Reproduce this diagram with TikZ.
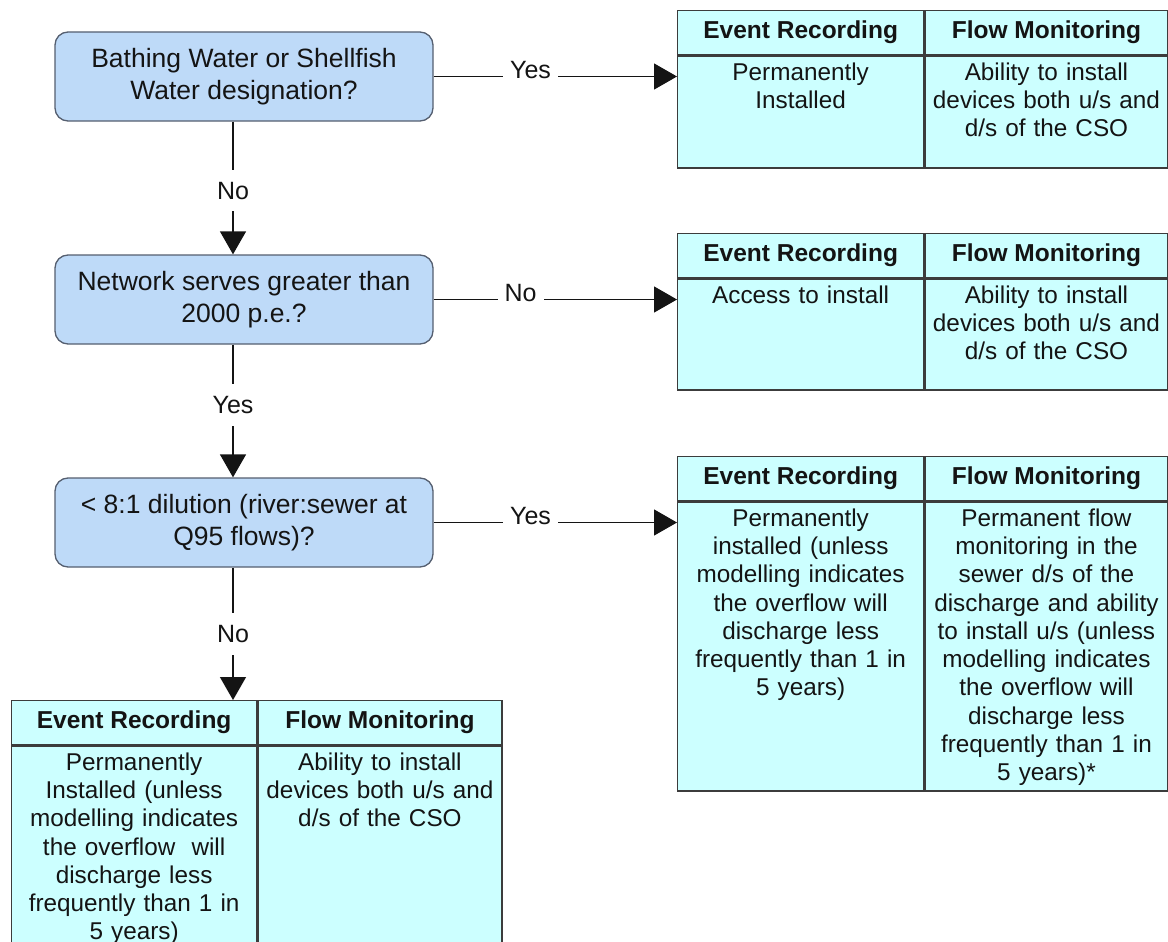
\documentclass[tikz,border=0pt]{standalone}
\usepackage{fontspec}
\setmainfont{Liberation Sans}
\usetikzlibrary{arrows.meta}

\definecolor{qfill}{RGB}{190,218,248}
\definecolor{qline}{RGB}{85,95,112}
\definecolor{tfill}{RGB}{204,255,255}
\definecolor{tline}{RGB}{60,60,60}
\definecolor{ink}{RGB}{20,20,20}

\tikzset{
  question/.style={draw=qline, fill=qfill, line width=1.3pt, rounded corners=13pt,
    minimum width=378pt, minimum height=89pt, align=center, inner sep=0pt,
    font=\fontsize{26.5}{32}\selectfont, text=ink},
  headcell/.style={draw=tline, fill=tfill, line width=1.3pt, anchor=north west,
    inner sep=0pt, font=\bfseries\fontsize{24.5}{28}\selectfont, text=ink},
  bodycell/.style={draw=tline, fill=tfill, line width=1.3pt, anchor=north west, inner sep=0pt},
  celltext/.style={anchor=north, align=center, inner sep=0pt, text width=240pt,
    font=\fontsize{24.3}{28.3}\selectfont, text=ink},
  flow/.style={draw=ink, line width=1.3pt, -{Triangle[length=23pt,width=26pt]}},
  answer/.style={fill=white, inner xsep=7pt, inner ysep=12pt,
    font=\fontsize{25}{30}\selectfont, text=ink},
  sideanswer/.style={answer, anchor=base, inner ysep=6pt, yshift=-2pt},
}

% One two-column result table: name, x, y (top left), column widths, body height, texts
\newcommand{\guidetable}[8]{%
  \node[headcell, minimum width=#4pt, minimum height=44pt] (#1h1) at (#2,#3) {Event Recording};
  \node[headcell, minimum width=#5pt, minimum height=44pt] (#1h2) at (#1h1.north east) {Flow Monitoring};
  \node[bodycell, minimum width=#4pt, minimum height=#6pt] (#1b1) at (#1h1.south west) {};
  \node[bodycell, minimum width=#5pt, minimum height=#6pt] (#1b2) at (#1h2.south west) {};
  \node[celltext] (#1x1) at ([yshift=-7pt]#1b1.north) {#7};
  \node[celltext] (#1x2) at ([yshift=-7pt]#1b2.north) {#8};
}

\begin{document}
\begin{tikzpicture}[x=1pt, y=-1pt]
  \useasboundingbox (0,0) rectangle (1168,942);
  \fill[white] (0,0) rectangle (1168,942);
  \clip (0,0) rectangle (1168,942);

  % decision boxes
  \node[question] (q1) at (244,76.5) {Bathing Water or Shellfish\\Water designation?};
  \node[question] (q2) at (244,299.5) {Network serves greater than\\2000 p.e.?};
  \node[question] (q3) at (244,522.5) {{<} 8:1 dilution (river:sewer at\\Q95 flows)?};

  % result tables
  \guidetable{t1}{677}{10}{246}{243}{112}
    {Permanently\\Installed}
    {Ability to install\\devices both u/s and\\d/s of the CSO}
  \guidetable{t2}{677}{233}{246}{243}{111}
    {Access to install}
    {Ability to install\\devices both u/s and\\d/s of the CSO}
  \guidetable{t3}{677}{456}{246}{243}{289}
    {Permanently\\installed (unless\\modelling indicates\\the overflow will\\discharge less\\frequently than 1 in\\5 years)}
    {Permanent flow\\monitoring in the\\sewer d/s of the\\discharge and ability\\to install u/s (unless\\modelling indicates\\the overflow will\\discharge less\\frequently than 1 in\\5 years)*}
  \guidetable{t4}{11}{700}{245}{244}{205}
    {Permanently\\Installed (unless\\modelling indicates\\the overflow\ \ will\\discharge less\\frequently than 1 in\\5 years)}
    {Ability to install\\devices both u/s and\\d/s of the CSO}

  % connectors
  \coordinate (spine) at (233,0);
  \draw[flow] (q1.south -| spine) -- node[answer, pos=0.52] {No} (q2.north -| spine);
  \draw[flow] (q2.south -| spine) -- node[answer, pos=0.455] {Yes} (q3.north -| spine);
  \draw[flow] (q3.south -| spine) -- node[answer, pos=0.5] {No} (t4h1.north -| spine);
  \draw[flow] (q1.east) -- node[sideanswer, pos=0.398] {Yes} (q1.east -| t1b1.west);
  \draw[flow] (q2.east) -- node[sideanswer, pos=0.357] {No} (q2.east -| t2b1.west);
  \draw[flow] (q3.east) -- node[sideanswer, pos=0.398] {Yes} (q3.east -| t3b1.west);
\end{tikzpicture}
\end{document}
